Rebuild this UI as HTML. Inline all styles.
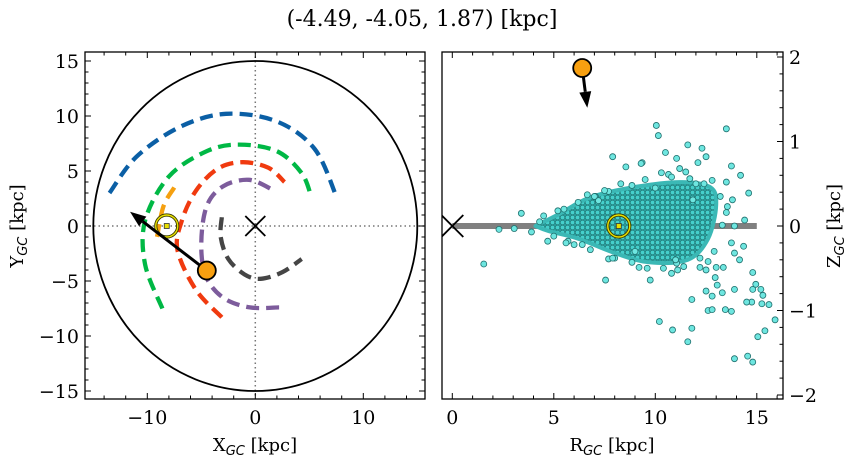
<!DOCTYPE html>
<html><head><meta charset="utf-8"><style>
body{margin:0;background:#fff;}
svg{display:block;}
text{font-family:"DejaVu Serif","Liberation Serif",serif;}
</style></head><body>
<svg id="fig" width="854" height="464" viewBox="0 0 854 464" xmlns="http://www.w3.org/2000/svg">
<defs>
<pattern id="dots" width="5" height="5" patternUnits="userSpaceOnUse">
<rect width="5" height="5" fill="#2aa8a6"/>
<circle cx="2.5" cy="2.5" r="2.3" fill="#45cfcb" stroke="#1d6e6c" stroke-width="0.6"/>
</pattern>
<clipPath id="clipL"><rect x="85" y="52" width="340" height="347"/></clipPath>
<clipPath id="clipR"><rect x="442" y="52" width="341" height="347"/></clipPath>
</defs>
<text x="422" y="26" font-size="22" text-anchor="middle" style="font-family:'DejaVu Serif','Liberation Serif',serif">(-4.49, -4.05, 1.87) [kpc]</text>
<g id="left"></g>
<g id="right"></g>
</svg>
<script>
const NS="http://www.w3.org/2000/svg";
// ---- data: left panel (kpc)
const armBlue=[[-13.5,3.0],[-11,6.3],[-7,9.0],[-2.7,10.2],[2,9.5],[5.5,7],[7.5,2.7]];
const armGreen=[[-8.6,-7.5],[-10.2,-3.5],[-10.2,0.5],[-8,4.5],[-4.5,6.8],[-1.5,7.4],[2,6.8],[4.3,4.8],[5.2,2.6]];
const armRed=[[-3.1,-8.3],[-5.5,-5.8],[-7.2,-2.2],[-6.8,0.5],[-5.5,3.2],[-3.5,5.2],[-1.2,5.8],[1.2,5.3],[2.7,4.0]];
const armPurple=[[2.2,-7.4],[-0.5,-7.4],[-3,-6.5],[-4.6,-4.5],[-5.0,-1.5],[-4.5,1.8],[-3,3.6],[-0.6,4.2],[1.6,3.3]];
const armGray=[[-3.1,0.8],[-3.2,-1],[-2.5,-3.0],[-1,-4.4],[0.5,-4.8],[2.5,-4.2],[4.3,-3.0]];
const armOrange=[[-7.5,3.5],[-8.5,1.8],[-9.1,-1]];
const objXY=[-4.49,-4.05];
const arrowXY=[-11.6,1.3];
const sunXY=[-8.2,0];
const diskRadius=15;
const xTicksL=[-10,0,10];
const yTicksL=[-15,-10,-5,0,5,10,15];
// ---- data: right panel
const objRZ=[6.4,1.87];
const arrowRZ=[6.65,1.4];
const sunRZ=[8.2,0];
const cloudEnvelope=[[4.1,0],[5.25,0.14],[6.7,0.33],[8.7,0.45],[11.2,0.52],[12.7,0.46],[13.0,0.25],[12.6,-0.15],[11.6,-0.4],[9.7,-0.43],[8,-0.32],[6.2,-0.15],[4.75,-0.06]];
const starR=[10.05,10.15,13.5,7.9,11.6,12.3,8.55,9.35,10.5,11.05,13.75,14.2,14.6,3.4,2.3,3.05,3.9,1.55,4.7,5.7,7.55,9.75,7.7,10.2,10.85,11.6,11.8,11.8,12.5,12.6,12.8,12.8,13.3,13.45,13.75,13.9,12.95,13.05,13.9,14.55,14.8,15.05,15.4,15.9,15.6,15.25,14.75,14.5,15.3,15.2,14.8,14.95,14.8,14.15,14.35,13.9,13.75,13.35,13.0,12.6,12.2,12.5,11.1,10.8,13.9,14.4,13.8,13.55,13.5,13.3,11.85,10.65,11.5,6.65,7.05,7.7,8.85,12.1,9.3,10.3,11.2,12.5,12.8,13.5,9.2,8.85,11.05,4.5,5.0,5.5,6.0,7.2,9.0,10.0,11.0,12.0,6.2,7.5,8.3,9.5,10.8,11.7,12.4,5.6,6.8,8.0,9.6,10.4,11.4,12.2,12.9,13.2,4.3,5.2,6.4,7.0,7.9];
const starZ=[1.19,1.07,1.15,0.82,0.96,0.92,0.70,0.75,0.87,0.80,0.71,0.60,0.39,0.15,-0.04,-0.03,-0.07,-0.45,-0.18,-0.18,-0.64,-0.64,-0.39,-1.13,-1.23,-1.37,-1.21,-0.87,-0.77,-1.0,-0.99,-0.83,-0.79,-0.99,-1.01,-0.75,-0.61,-0.70,-1.57,-1.54,-1.61,-1.31,-1.24,-1.11,-0.93,-0.92,-0.90,-0.90,-0.82,-0.75,-0.75,-0.69,-0.55,-0.40,-0.24,-0.32,-0.2,-0.49,-0.49,-0.42,-0.49,-0.52,-0.52,-0.56,0.0,0.07,0.31,0.23,0.16,0.01,0.31,0.61,0.64,0.37,0.35,0.41,0.48,0.75,0.74,0.63,0.68,0.82,0.54,0.52,-0.49,-0.43,-0.44,0.12,-0.12,0.2,-0.22,0.3,-0.3,0.45,-0.4,0.5,0.28,0.42,0.5,0.55,0.58,0.56,0.5,-0.2,-0.28,-0.38,-0.5,-0.5,-0.48,-0.38,-0.3,0.35,0.05,0.18,-0.22,0.35,-0.38];
const xTicksR=[0,5,10,15];
const yTicksR=[-2,-1,0,1,2];

// axis functions
const xL=v=>255.3+10.8*v, yL=v=>226-11.0*v;
const xR=v=>452.3+20.3*v, yR=v=>226-84.5*v;

function mk(tag,attrs,parent){const e=document.createElementNS(NS,tag);for(const k in attrs)e.setAttribute(k,attrs[k]);parent.appendChild(e);return e;}
function smooth(pts){let d='M'+pts[0][0].toFixed(1)+' '+pts[0][1].toFixed(1);
  for(let i=0;i<pts.length-1;i++){const p0=pts[Math.max(i-1,0)],p1=pts[i],p2=pts[i+1],p3=pts[Math.min(i+2,pts.length-1)];
    const c1=[p1[0]+(p2[0]-p0[0])/6,p1[1]+(p2[1]-p0[1])/6],c2=[p2[0]-(p3[0]-p1[0])/6,p2[1]-(p3[1]-p1[1])/6];
    d+='C'+c1[0].toFixed(1)+' '+c1[1].toFixed(1)+' '+c2[0].toFixed(1)+' '+c2[1].toFixed(1)+' '+p2[0].toFixed(1)+' '+p2[1].toFixed(1);}
  return d;}
const L=document.getElementById('left'), R=document.getElementById('right');

// ---- LEFT
const gL=mk('g',{'clip-path':'url(#clipL)'},L);
let e;
e=mk('line',{x1:85,x2:425,y1:yL(0),y2:yL(0),stroke:'#777','stroke-width':1.5,'stroke-dasharray':'1.5 3'},gL);

e=mk('line',{x1:xL(0),x2:xL(0),y1:52,y2:399,stroke:'#777','stroke-width':1.5,'stroke-dasharray':'1.5 3'},gL);

e=mk('ellipse',{cx:xL(0),cy:yL(0),rx:10.8*diskRadius,ry:11.0*diskRadius,fill:'none',stroke:'#000','stroke-width':1.8},gL);

const arms=[[armBlue,'#0b5fa5','arm-blue'],[armGreen,'#00b845','arm-green'],[armRed,'#f03a0f','arm-red'],[armPurple,'#7d5c9c','arm-purple'],[armGray,'#454545','arm-gray'],[armOrange,'#f5a010','arm-orange']];
arms.forEach(a=>{
  const px=a[0].map(p=>[xL(p[0]),yL(p[1])]);
  const el=mk('path',{d:smooth(px),fill:'none',stroke:a[1],'stroke-width':4.3,'stroke-dasharray':'13 7'},gL);
  
  
});
e=mk('g',{},gL);

mk('path',{d:`M${xL(0)-10} ${yL(0)-10}L${xL(0)+10} ${yL(0)+10}M${xL(0)-10} ${yL(0)+10}L${xL(0)+10} ${yL(0)-10}`,stroke:'#000','stroke-width':1.8},e);
function sun(g,x,y,name){const s=mk('g',{},g);
  mk('circle',{cx:x,cy:y,r:11,fill:'none',stroke:'#3a3a00','stroke-width':3.2},s);
  mk('circle',{cx:x,cy:y,r:11,fill:'none',stroke:'#e8e000','stroke-width':1.4},s);
  mk('rect',{x:x-2.5,y:y-2.5,width:5,height:5,fill:'#e8e000',stroke:'#333','stroke-width':0.8},s);}
sun(gL,xL(sunXY[0]),yL(sunXY[1]),'sun-marker-xy');
function arrow(g,x1,y1,x2,y2,name){const a=mk('g',{},g);
  const ang=Math.atan2(y2-y1,x2-x1),h=16,w=6;
  const bx=x2-h*Math.cos(ang),by=y2-h*Math.sin(ang);
  mk('line',{x1:x1,y1:y1,x2:bx,y2:by,stroke:'#000','stroke-width':3},a);
  mk('path',{d:`M${x2} ${y2}L${bx+w*Math.sin(ang)} ${by-w*Math.cos(ang)}L${bx-w*Math.sin(ang)} ${by+w*Math.cos(ang)}Z`,fill:'#000'},a);}
arrow(gL,xL(objXY[0]),yL(objXY[1]),xL(arrowXY[0]),yL(arrowXY[1]),'velocity-arrow-xy');
e=mk('circle',{cx:xL(objXY[0]),cy:yL(objXY[1]),r:9,fill:'#f8a010',stroke:'#000','stroke-width':1.8},gL);


function frame(p,x0,y0,x1,y1,name){const r=mk('rect',{x:x0,y:y0,width:x1-x0,height:y1-y0,fill:'none',stroke:'#000','stroke-width':1.3},p);}
frame(L,85,52,425,399,'xy-axes-frame');
const tk=mk('g',{stroke:'#000','stroke-width':1},L);
for(let v=-14;v<=14;v+=2){const x=xL(v),len=(v%10===0)?6:3.5;mk('line',{x1:x,x2:x,y1:399,y2:399-len},tk);mk('line',{x1:x,x2:x,y1:52,y2:52+len},tk);}
for(let v=-15;v<=15;v++){const y=yL(v),len=(v%5===0)?6:3.5;mk('line',{x1:85,x2:85+len,y1:y,y2:y},tk);mk('line',{x1:425,x2:425-len,y1:y,y2:y},tk);}
xTicksL.forEach(v=>{const t=mk('text',{x:xL(v),y:424,'font-size':19,'text-anchor':'middle'},L);t.textContent=String(v).replace('-','\u2212');});
yTicksL.forEach(v=>{const t=mk('text',{x:79,y:yL(v)+7,'font-size':19,'text-anchor':'end'},L);t.textContent=String(v).replace('-','\u2212');});
e=mk('text',{x:255,y:451,'font-size':18,'text-anchor':'middle'},L);e.innerHTML='X<tspan font-size="13" dy="4" font-style="italic" style="font-family:\'DejaVu Sans\',sans-serif">GC</tspan><tspan dy="-4"> [kpc]</tspan>';

e=mk('text',{x:0,y:0,'font-size':18,'text-anchor':'middle',transform:'translate(23,226) rotate(-90)'},L);e.innerHTML='Y<tspan font-size="13" dy="4" font-style="italic" style="font-family:\'DejaVu Sans\',sans-serif">GC</tspan><tspan dy="-4"> [kpc]</tspan>';


// ---- RIGHT
const gR=mk('g',{'clip-path':'url(#clipR)'},R);
e=mk('line',{x1:xR(0),x2:xR(15),y1:yR(0),y2:yR(0),stroke:'#808080','stroke-width':6},gR);

const env=cloudEnvelope.map(p=>[xR(p[0]),yR(p[1])]);env.push(env[0]);
e=mk('path',{d:smooth(env)+'Z',fill:'url(#dots)',stroke:'#3bb8b5','stroke-width':4,'stroke-linejoin':'round'},gR);

const sg=mk('g',{},gR);
starR.forEach((r,i)=>{const c=mk('circle',{cx:xR(r),cy:yR(starZ[i]),r:3,fill:'#6ee6e0',stroke:'#1f6f6d','stroke-width':0.8},sg);
  
  });
e=mk('g',{},gR);
mk('path',{d:`M${xR(0)-11} ${yR(0)-11}L${xR(0)+11} ${yR(0)+11}M${xR(0)-11} ${yR(0)+11}L${xR(0)+11} ${yR(0)-11}`,stroke:'#000','stroke-width':1.8},e);
sun(gR,xR(sunRZ[0]),yR(sunRZ[1]),'sun-marker-rz');
arrow(gR,xR(objRZ[0]),yR(objRZ[1]),xR(arrowRZ[0]),yR(arrowRZ[1]),'velocity-arrow-rz');
e=mk('circle',{cx:xR(objRZ[0]),cy:yR(objRZ[1]),r:9,fill:'#f8a010',stroke:'#000','stroke-width':1.8},gR);

frame(R,442,52,783,399,'rz-axes-frame');
const tk2=mk('g',{stroke:'#000','stroke-width':1},R);
for(let v=0;v<=16;v++){const x=xR(v),len=(v%5===0)?6:3.5;mk('line',{x1:x,x2:x,y1:399,y2:399-len},tk2);mk('line',{x1:x,x2:x,y1:52,y2:52+len},tk2);}
for(let k=-10;k<=10;k++){const v=k/5,y=yR(v),len=(k%5===0)?6:3.5;mk('line',{x1:783,x2:783-len,y1:y,y2:y},tk2);}
xTicksR.forEach(v=>{const t=mk('text',{x:xR(v),y:424,'font-size':19,'text-anchor':'middle'},R);t.textContent=String(v);});
yTicksR.forEach(v=>{const t=mk('text',{x:789,y:yR(v)+7,'font-size':19,'text-anchor':'start'},R);t.textContent=String(v).replace('-','\u2212');});
e=mk('text',{x:612,y:451,'font-size':18,'text-anchor':'middle'},R);e.innerHTML='R<tspan font-size="13" dy="4" font-style="italic" style="font-family:\'DejaVu Sans\',sans-serif">GC</tspan><tspan dy="-4"> [kpc]</tspan>';

e=mk('text',{x:0,y:0,'font-size':18,'text-anchor':'middle',transform:'translate(840,226) rotate(-90)'},R);e.innerHTML='Z<tspan font-size="13" dy="4" font-style="italic" style="font-family:\'DejaVu Sans\',sans-serif">GC</tspan><tspan dy="-4"> [kpc]</tspan>';

</script>
</body></html>
